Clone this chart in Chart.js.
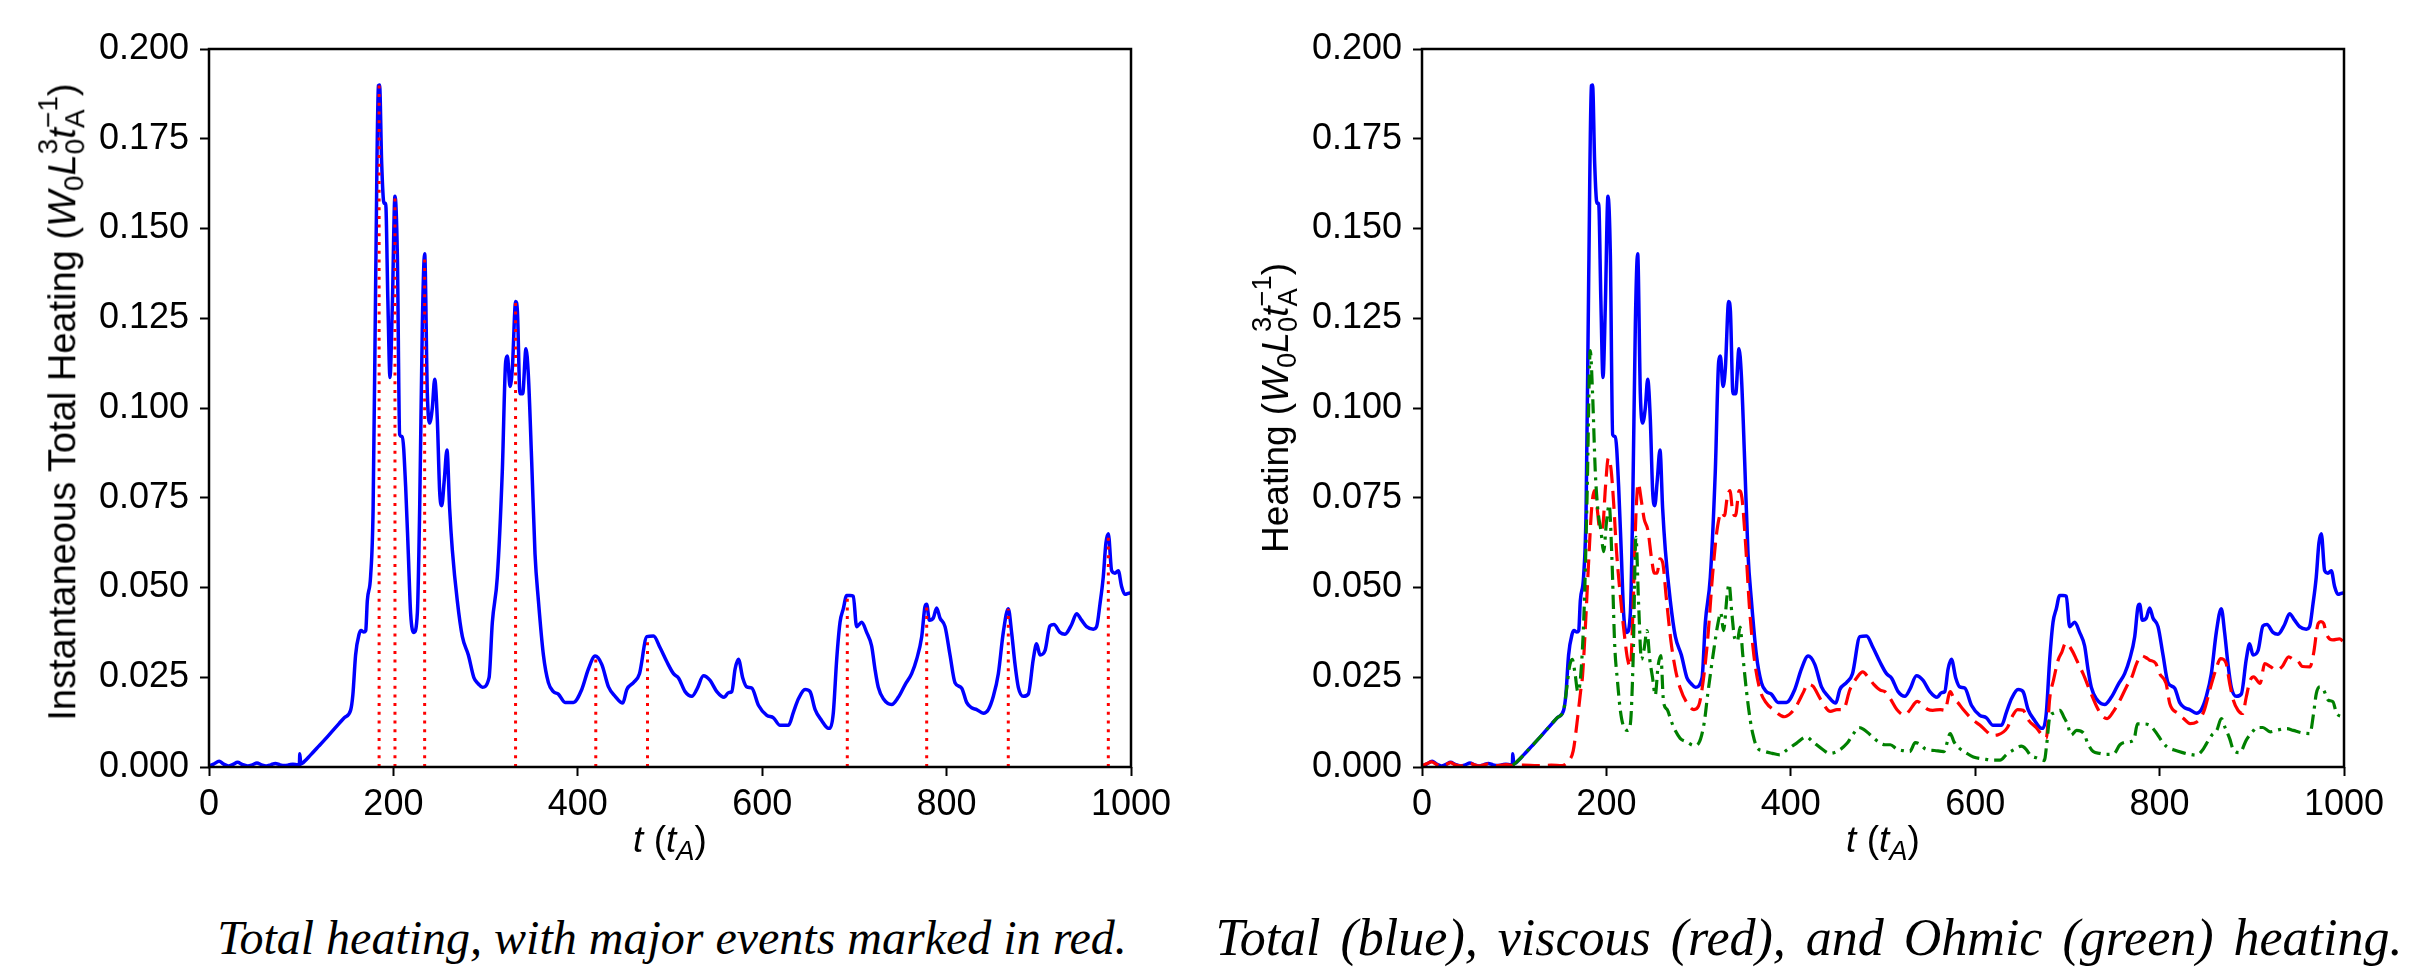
<!DOCTYPE html>
<html><head><meta charset="utf-8">
<script src="https://cdn.jsdelivr.net/npm/chart.js@4.4.1/dist/chart.umd.min.js"></script>
<style>
html,body{margin:0;padding:0;background:#fff;}
#page{position:relative;width:2409px;height:973px;overflow:hidden;background:#fff;}
.cv{position:absolute;top:0;}
.lab{position:absolute;font-family:"Liberation Sans",Arial,sans-serif;font-size:37px;color:#000;white-space:nowrap;transform:translate(-50%,-50%);line-height:1;}
.ylab{transform:translate(-50%,-50%) rotate(-90deg);}
.stk{display:inline-block;vertical-align:-0.32em;font-size:0.74em;line-height:0.95;}
.stk span{display:block;}
.sub{font-size:0.74em;vertical-align:-0.3em;}
.cap{position:absolute;font-family:"Liberation Serif","Times New Roman",serif;font-style:italic;font-size:48px;white-space:nowrap;transform:translate(-50%,-50%);color:#000;}
</style></head>
<body><div id="page">
<div class="cv" style="left:0;"><canvas id="c1" width="1190" height="870"></canvas></div>
<div class="cv" style="left:1200px;"><canvas id="c2" width="1209" height="870"></canvas></div>

<div class="lab ylab" style="left:62px;top:402px;font-size:38px;">Instantaneous Total Heating (<i>W</i><span class="sub">0</span><i>L</i><span class="stk"><span>3</span><span>0</span></span><i>t</i><span class="stk"><span>−1</span><span>A</span></span>)</div>
<div class="lab ylab" style="left:1275px;top:408px;">Heating (<i>W</i><span class="sub">0</span><i>L</i><span class="stk"><span>3</span><span>0</span></span><i>t</i><span class="stk"><span>−1</span><span>A</span></span>)</div>
<div class="lab" style="left:670px;top:843px;"><i>t</i> (<i>t</i><span class="sub"><i>A</i></span>)</div>
<div class="lab" style="left:1883px;top:843px;"><i>t</i> (<i>t</i><span class="sub"><i>A</i></span>)</div>

<div class="cap" style="left:672px;top:937px;">Total heating, with major events marked in red.</div>
<div class="cap" style="left:1809px;top:937px;font-size:52px;word-spacing:7px;">Total (blue), viscous (red), and Ohmic (green) heating.</div>
</div>
<script>
// ---- Total heating (blue) ----
const tTotal = [0,5,11,16,21,26,31,36,42,47,52,57,62,67,72,77,82,87,91,96,98,98.5,99.5,101,110,119,130,141,147,153.6,156,159,162.7,165,168,170,171.7,175.3,178,180.8,183.7,185,187.3,189.8,191.6,194,196.3,198.8,201.7,204.3,206.8,209.7,213.3,216.2,218.7,222.3,226,228.5,231.4,233.9,236.8,239.3,242.2,244.8,247.6,250.2,252.4,255.2,258.1,261,263.9,269.3,274.8,281.3,287.4,292,296.5,303.7,307.3,312.7,318.1,321.8,323.6,326.5,329,332.6,334.5,337.3,340.2,343.8,346.4,350,353.6,357.3,362.7,368.1,373.5,378.9,386.2,395.2,404.3,411.5,418.8,426,433.3,440.5,448.8,453.2,460.4,466.9,474.9,482.1,489.3,496.6,503.8,509.2,516.4,523.7,529.1,536.3,543.5,550.8,558.7,563.4,567,570.6,574.2,578.9,583.3,588.7,595.9,605,612.2,619.4,628.5,633.9,639.3,646.5,651.9,657.4,664.6,671.8,673.5,677.1,680.8,684.4,688,691.6,695.2,698.8,702.4,707.9,713.3,718.7,722.3,725.9,731.4,740.4,747.6,754.9,762.1,767.5,773,776.6,778.4,781.3,785.6,789.2,792.8,798.3,803.7,809.1,816.3,821.7,827.2,832.6,839.8,845.3,850.7,856.1,861.5,866.9,870.5,874.2,877.8,883.2,888.6,894,897.6,901.3,906.7,912.1,916.4,922.9,928.4,935.6,941,946.4,951.8,959.1,962.7,966.3,969.9,972.8,975.4,979,982.6,986.2,989.8,993.4,998.9,1000];
const total = [0.0003,0.0008,0.0016,0.0008,0.0003,0.0007,0.0013,0.0007,0.0003,0.0006,0.0011,0.0006,0.0003,0.0006,0.0010,0.0006,0.0004,0.0006,0.0008,0.0006,0.0006,0.0037,0.0008,0.0010,0.0033,0.0058,0.0089,0.0121,0.0138,0.0158,0.020,0.0312,0.0369,0.0380,0.0376,0.0380,0.0463,0.0532,0.072,0.136,0.1898,0.190,0.168,0.157,0.157,0.130,0.1085,0.128,0.159,0.1424,0.0926,0.092,0.078,0.0593,0.0427,0.0375,0.043,0.072,0.1233,0.143,0.104,0.0958,0.100,0.108,0.097,0.0766,0.0728,0.080,0.0883,0.072,0.0605,0.0463,0.0363,0.0312,0.0248,0.0232,0.0222,0.0248,0.0403,0.0529,0.0823,0.113,0.1145,0.106,0.111,0.1297,0.127,0.104,0.104,0.1165,0.109,0.085,0.0593,0.0463,0.0312,0.0235,0.021,0.0203,0.018,0.018,0.0216,0.0273,0.0309,0.0286,0.0223,0.0197,0.0178,0.0216,0.0235,0.026,0.0363,0.0365,0.0332,0.0293,0.026,0.0248,0.021,0.0197,0.0216,0.0254,0.0241,0.021,0.0194,0.0207,0.021,0.0273,0.030,0.0248,0.0223,0.022,0.0172,0.0144,0.0137,0.0116,0.0116,0.0153,0.019,0.0216,0.021,0.016,0.0129,0.0108,0.0108,0.015,0.030,0.0403,0.0441,0.0478,0.0478,0.0476,0.0391,0.0403,0.0375,0.0337,0.0273,0.0222,0.019,0.0174,0.0194,0.0229,0.026,0.030,0.0363,0.0447,0.0453,0.0409,0.0415,0.0443,0.0415,0.0391,0.0312,0.0235,0.022,0.018,0.0165,0.016,0.0150,0.016,0.0197,0.026,0.0375,0.0441,0.0375,0.0286,0.0222,0.0197,0.0203,0.030,0.0343,0.0312,0.0324,0.0393,0.0397,0.0375,0.037,0.0397,0.0427,0.0409,0.0391,0.0384,0.0391,0.0453,0.0529,0.0624,0.065,0.0547,0.054,0.0547,0.0503,0.0481,0.0485,0.0485];

// ---- Viscous heating (red dashed) ----
const tViscous = [0,5,10.5,16,21,26,31,36,42,47,52,57,62,67,72,77,82,87,92,98,110,125,140,152,158,164,168,172,174,177,180.5,184,187,190,193,196,199,202,205,208,211,215,219,223,226,229,232,234.5,238,241,245,249,252,255,258,261,265,270,275,280,287,295,300,305,310,315,320,325,328,331,334,337,340,344,347,351,355,360,366,373,381,393,400,406,414,418,424,432,443,450,457,464,472,478,484,490,497,502,508,515,523,529,533,537,544,549,554,562,567,573,577,581,587,598,605,612,618,625,635,640,646,652,658,666,674,677,681,685,690,694,698,701,706,710,717,725,732,737,743,750,757,764,770,775,780,785,789,796,800,807,811,820,826,833,840,848,855,862,866,872,876,880,885,890,894,898,902,909,914,920,927,933,940,945,949,955,963,967,972,975,978,981,988,995,1000];
const viscous = [0.0003,0.0009,0.0014,0.0007,0.0003,0.0007,0.0012,0.0006,0.0003,0.0006,0.0010,0.0006,0.0003,0.0006,0.0009,0.0005,0.0004,0.0005,0.0007,0.0004,0.0005,0.0004,0.0005,0.0004,0.0015,0.0045,0.012,0.021,0.025,0.038,0.056,0.072,0.077,0.072,0.066,0.067,0.078,0.086,0.083,0.073,0.060,0.048,0.038,0.030,0.028,0.045,0.070,0.079,0.074,0.069,0.066,0.058,0.054,0.054,0.058,0.057,0.047,0.035,0.027,0.022,0.018,0.016,0.017,0.024,0.036,0.053,0.066,0.071,0.070,0.075,0.077,0.071,0.070,0.077,0.075,0.062,0.045,0.031,0.022,0.018,0.016,0.014,0.015,0.017,0.021,0.023,0.0225,0.019,0.0155,0.016,0.016,0.0215,0.025,0.0265,0.025,0.023,0.0214,0.021,0.019,0.016,0.0145,0.0158,0.0173,0.0183,0.017,0.016,0.0158,0.016,0.0158,0.021,0.019,0.018,0.016,0.013,0.0117,0.010,0.0088,0.009,0.011,0.014,0.016,0.0158,0.013,0.011,0.0085,0.008,0.0195,0.0243,0.0298,0.032,0.0345,0.034,0.032,0.0298,0.026,0.0209,0.0167,0.0145,0.0135,0.0155,0.0186,0.0223,0.0251,0.0288,0.031,0.0305,0.0298,0.0288,0.026,0.0233,0.0177,0.0149,0.0135,0.0121,0.0125,0.0155,0.022,0.0279,0.0302,0.029,0.0233,0.0186,0.0158,0.0149,0.0195,0.024,0.0251,0.0233,0.0288,0.028,0.027,0.028,0.0307,0.030,0.0298,0.028,0.0279,0.0316,0.040,0.0405,0.040,0.037,0.0354,0.0357,0.0348];

// ---- Ohmic heating (green dash-dot) ----
const tOhmic = [98.5,101,110,119,130,141,147,153.6,157,160,163,166,169,172,176,179,182.5,185,188,191,194,197,200,203,206,209,212,215,219,223,226,229,232,235,238,241,244,247,250,253,256,259,262,266,270,275,280,287,295,300,306,310,317,321,324,327,331,333,336,339,342,345,348,352,356,359,363,370,380,388,396,406,417,424,435,442,450,461,468,474,479,486,495,502,508,515,523,529,535,541,546,556,566,573,577,583,591,598,610,620,627,634,642,650,655,660,667,675,677.5,681,685,692,696,700,704,710,718,722,728,735,742,750,757,765,772,776,782,788,792,797,803,808,815,825,833,840,846,851,857,862,867,871,876,880,887,894,902,905,912,920,928,938,945,955,963,967,970,974,978,983,988,992,1000];
const ohmic = [0.0005,0.0010,0.0033,0.0058,0.0089,0.0121,0.0138,0.0158,0.022,0.028,0.030,0.026,0.021,0.025,0.045,0.075,0.116,0.104,0.082,0.071,0.066,0.060,0.068,0.073,0.058,0.034,0.024,0.016,0.011,0.0102,0.012,0.030,0.064,0.045,0.030,0.033,0.038,0.030,0.025,0.020,0.028,0.031,0.018,0.016,0.013,0.010,0.008,0.007,0.006,0.0066,0.0122,0.0205,0.0335,0.040,0.043,0.038,0.048,0.051,0.043,0.036,0.035,0.039,0.031,0.021,0.0131,0.009,0.0056,0.0045,0.0038,0.0034,0.0048,0.0066,0.0084,0.007,0.0048,0.0038,0.0043,0.0066,0.0093,0.011,0.0105,0.009,0.007,0.0062,0.0062,0.005,0.0045,0.0043,0.0068,0.0062,0.005,0.0046,0.0043,0.0093,0.007,0.0052,0.0038,0.0028,0.0022,0.0019,0.0019,0.0035,0.0048,0.0058,0.005,0.0033,0.0025,0.0018,0.0062,0.0141,0.015,0.0158,0.014,0.012,0.0089,0.0102,0.0093,0.0066,0.0043,0.0038,0.0035,0.0036,0.0062,0.007,0.0075,0.012,0.012,0.0118,0.011,0.0093,0.007,0.0056,0.0048,0.004,0.0035,0.0033,0.0045,0.0066,0.009,0.0102,0.0135,0.011,0.0079,0.0048,0.004,0.0075,0.0102,0.011,0.011,0.0098,0.0103,0.0107,0.0102,0.0095,0.0093,0.0149,0.0205,0.0223,0.0214,0.0186,0.0182,0.0149,0.014];

// ---- Major events (red dotted markers) ----
const eventTimes = [184.5, 201.7, 233.9, 332.5, 419.5, 475.6, 692.3, 778.4, 866.9, 975.4];
const eventHeights = [0.190, 0.159, 0.143, 0.1297, 0.0305, 0.0363, 0.0478, 0.0453, 0.0441, 0.065];

// ---- Axis ticks ----
const xTicks = [0, 200, 400, 600, 800, 1000];
const yTicks = ['0.000','0.025','0.050','0.075','0.100','0.125','0.150','0.175','0.200'];

const pts = (xs, ys) => xs.map((x, i) => ({x: x, y: ys[i]}));

const frame = {
  id: 'frame',
  afterDatasetsDraw(chart) {
    const a = chart.chartArea, ctx = chart.ctx;
    ctx.save();
    ctx.strokeStyle = '#000';
    ctx.lineWidth = 2.5;
    ctx.strokeRect(a.left, a.top, a.right - a.left, a.bottom - a.top);
    ctx.restore();
  }
};

const tickFont = {family: '"Liberation Sans", Arial, sans-serif', size: 36};

function scales(yWidth) {
  return {
    x: {
      type: 'linear', min: 0, max: 1000,
      afterBuildTicks: s => { s.ticks = xTicks.map(v => ({value: v})); },
      afterFit: s => { s.height = 103; },
      ticks: {color: '#000', font: tickFont, padding: 7, maxRotation: 0, autoSkip: false,
              callback: v => String(v)},
      grid: {display: true, drawOnChartArea: false, drawTicks: true, tickLength: 9, tickWidth: 2, tickColor: '#000'},
      border: {display: false}
    },
    y: {
      type: 'linear', min: 0, max: 0.2,
      afterBuildTicks: s => { s.ticks = yTicks.map(v => ({value: parseFloat(v)})); },
      afterFit: s => { s.width = yWidth; },
      ticks: {color: '#000', font: tickFont, padding: 11, autoSkip: false,
              callback: (v, i) => yTicks[i]},
      grid: {display: true, drawOnChartArea: false, drawTicks: true, tickLength: 9, tickWidth: 2, tickColor: '#000'},
      border: {display: false}
    }
  };
}

const common = {
  responsive: false, animation: false,
  plugins: {legend: {display: false}, tooltip: {enabled: false}},
  elements: {point: {radius: 0}, line: {tension: 0}}
};

// Left chart
const eventSets = eventTimes.map((t, i) => ({
  data: [{x: t, y: 0}, {x: t, y: eventHeights[i]}],
  borderColor: '#ff0000', borderWidth: 3, borderDash: [3, 5.7], order: 0, pointRadius: 0
}));
new Chart(document.getElementById('c1'), {
  type: 'line',
  data: {datasets: [
    ...eventSets,
    {data: pts(tTotal, total), borderColor: '#0000ff', borderWidth: 3.5, order: 1, pointRadius: 0, cubicInterpolationMode: 'monotone'}
  ]},
  options: Object.assign({}, common, {
    layout: {padding: {left: 0, top: 49, right: 59, bottom: 0}},
    scales: scales(209)
  }),
  plugins: [frame]
});

// Right chart
new Chart(document.getElementById('c2'), {
  type: 'line',
  data: {datasets: [
    {data: pts(tOhmic, ohmic), borderColor: '#008000', borderWidth: 3.2, borderDash: [14, 6, 3, 6], order: 0, pointRadius: 0, cubicInterpolationMode: 'monotone'},
    {data: pts(tViscous, viscous), borderColor: '#ff0000', borderWidth: 3.2, borderDash: [18, 8], order: 1, pointRadius: 0, cubicInterpolationMode: 'monotone'},
    {data: pts(tTotal, total), borderColor: '#0000ff', borderWidth: 3.5, order: 2, pointRadius: 0, cubicInterpolationMode: 'monotone'}
  ]},
  options: Object.assign({}, common, {
    layout: {padding: {left: 0, top: 49, right: 65, bottom: 0}},
    scales: scales(222)
  }),
  plugins: [frame]
});
</script>
</body></html>
